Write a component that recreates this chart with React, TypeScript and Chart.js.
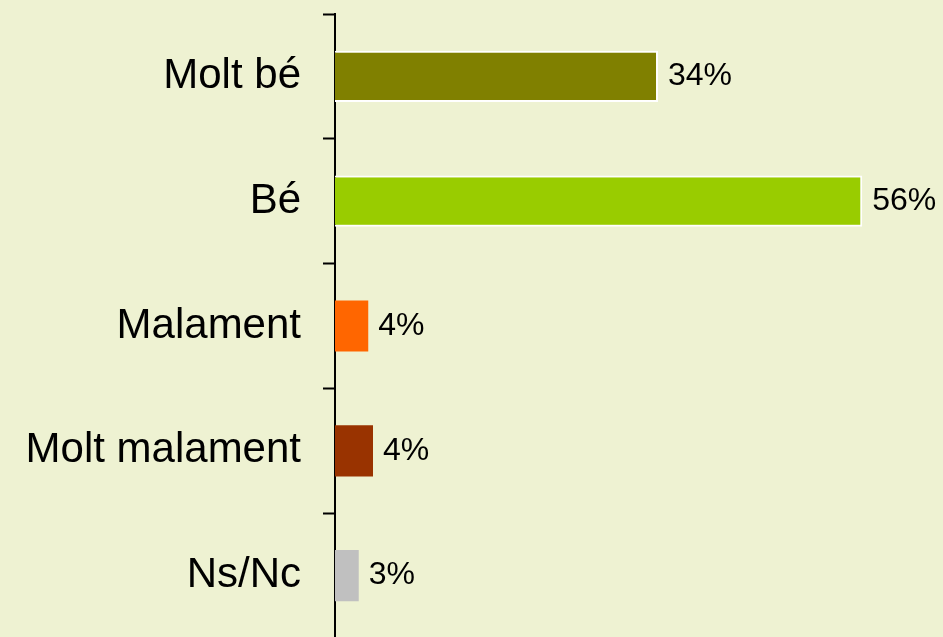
import React, { useEffect, useRef } from "react";
import { Chart, registerables } from "chart.js";

Chart.register(...registerables);

const categories = ["Molt bé", "Bé", "Malament", "Molt malament", "Ns/Nc"];
const values = [34, 55.5, 3.5, 4, 2.5];
const valueLabels = ["34%", "56%", "4%", "4%", "3%"];
const barColors = ["#808000", "#99CC00", "#FF6600", "#993300", "#C0C0C0"];
const borderWidths = [2, 2, 0, 0, 0];

const BG = "#EEF2D2";
const FONT = "'Liberation Sans', Arial, sans-serif";

const valueLabelPlugin = {
  id: "valueLabels",
  afterDatasetsDraw(chart: any) {
    const ctx = chart.ctx;
    const meta = chart.getDatasetMeta(0);
    ctx.save();
    ctx.font = `32px ${FONT}`;
    ctx.fillStyle = "#000";
    ctx.textAlign = "left";
    ctx.textBaseline = "middle";
    meta.data.forEach((bar: any, i: number) => {
      ctx.fillText(valueLabels[i], bar.x + 10, bar.y);
    });
    ctx.restore();
  },
};

export default function App() {
  const ref = useRef<HTMLCanvasElement | null>(null);
  useEffect(() => {
    if (!ref.current) return;
    const chart = new Chart(ref.current, {
      type: "bar",
      data: {
        labels: categories,
        datasets: [
          {
            data: values,
            backgroundColor: barColors,
            borderColor: "#FFFFFF",
            borderWidth: borderWidths,
            barPercentage: 0.41,
            categoryPercentage: 1,
          },
        ],
      },
      options: {
        indexAxis: "y",
        animation: false,
        responsive: false,
        maintainAspectRatio: false,
        layout: { padding: { top: 14, bottom: 0, left: 0, right: 0 } },
        plugins: {
          legend: { display: false },
          tooltip: { enabled: false },
        },
        scales: {
          x: { display: false, min: 0, max: 64 },
          y: {
            afterFit(scale: any) {
              scale.width = 335;
              scale.paddingTop = 0;
              scale.paddingBottom = 0;
            },
            border: { display: true, color: "#000", width: 2 },
            grid: {
              display: true,
              drawOnChartArea: false,
              drawTicks: true,
              tickLength: 12,
              tickWidth: 2,
              tickColor: "#000",
              offset: true,
            },
            ticks: {
              color: "#000",
              padding: 22,
              font: { family: FONT, size: 42 },
            },
          },
        },
      },
      plugins: [valueLabelPlugin],
    });
    return () => chart.destroy();
  }, []);
  return (
    <div
      style={{
        position: "fixed",
        left: 0,
        top: 0,
        width: 943,
        height: 637,
        overflow: "hidden",
        background: BG,
      }}
    >
      <canvas ref={ref} width={943} height={638} style={{ display: "block" }} />
    </div>
  );
}
